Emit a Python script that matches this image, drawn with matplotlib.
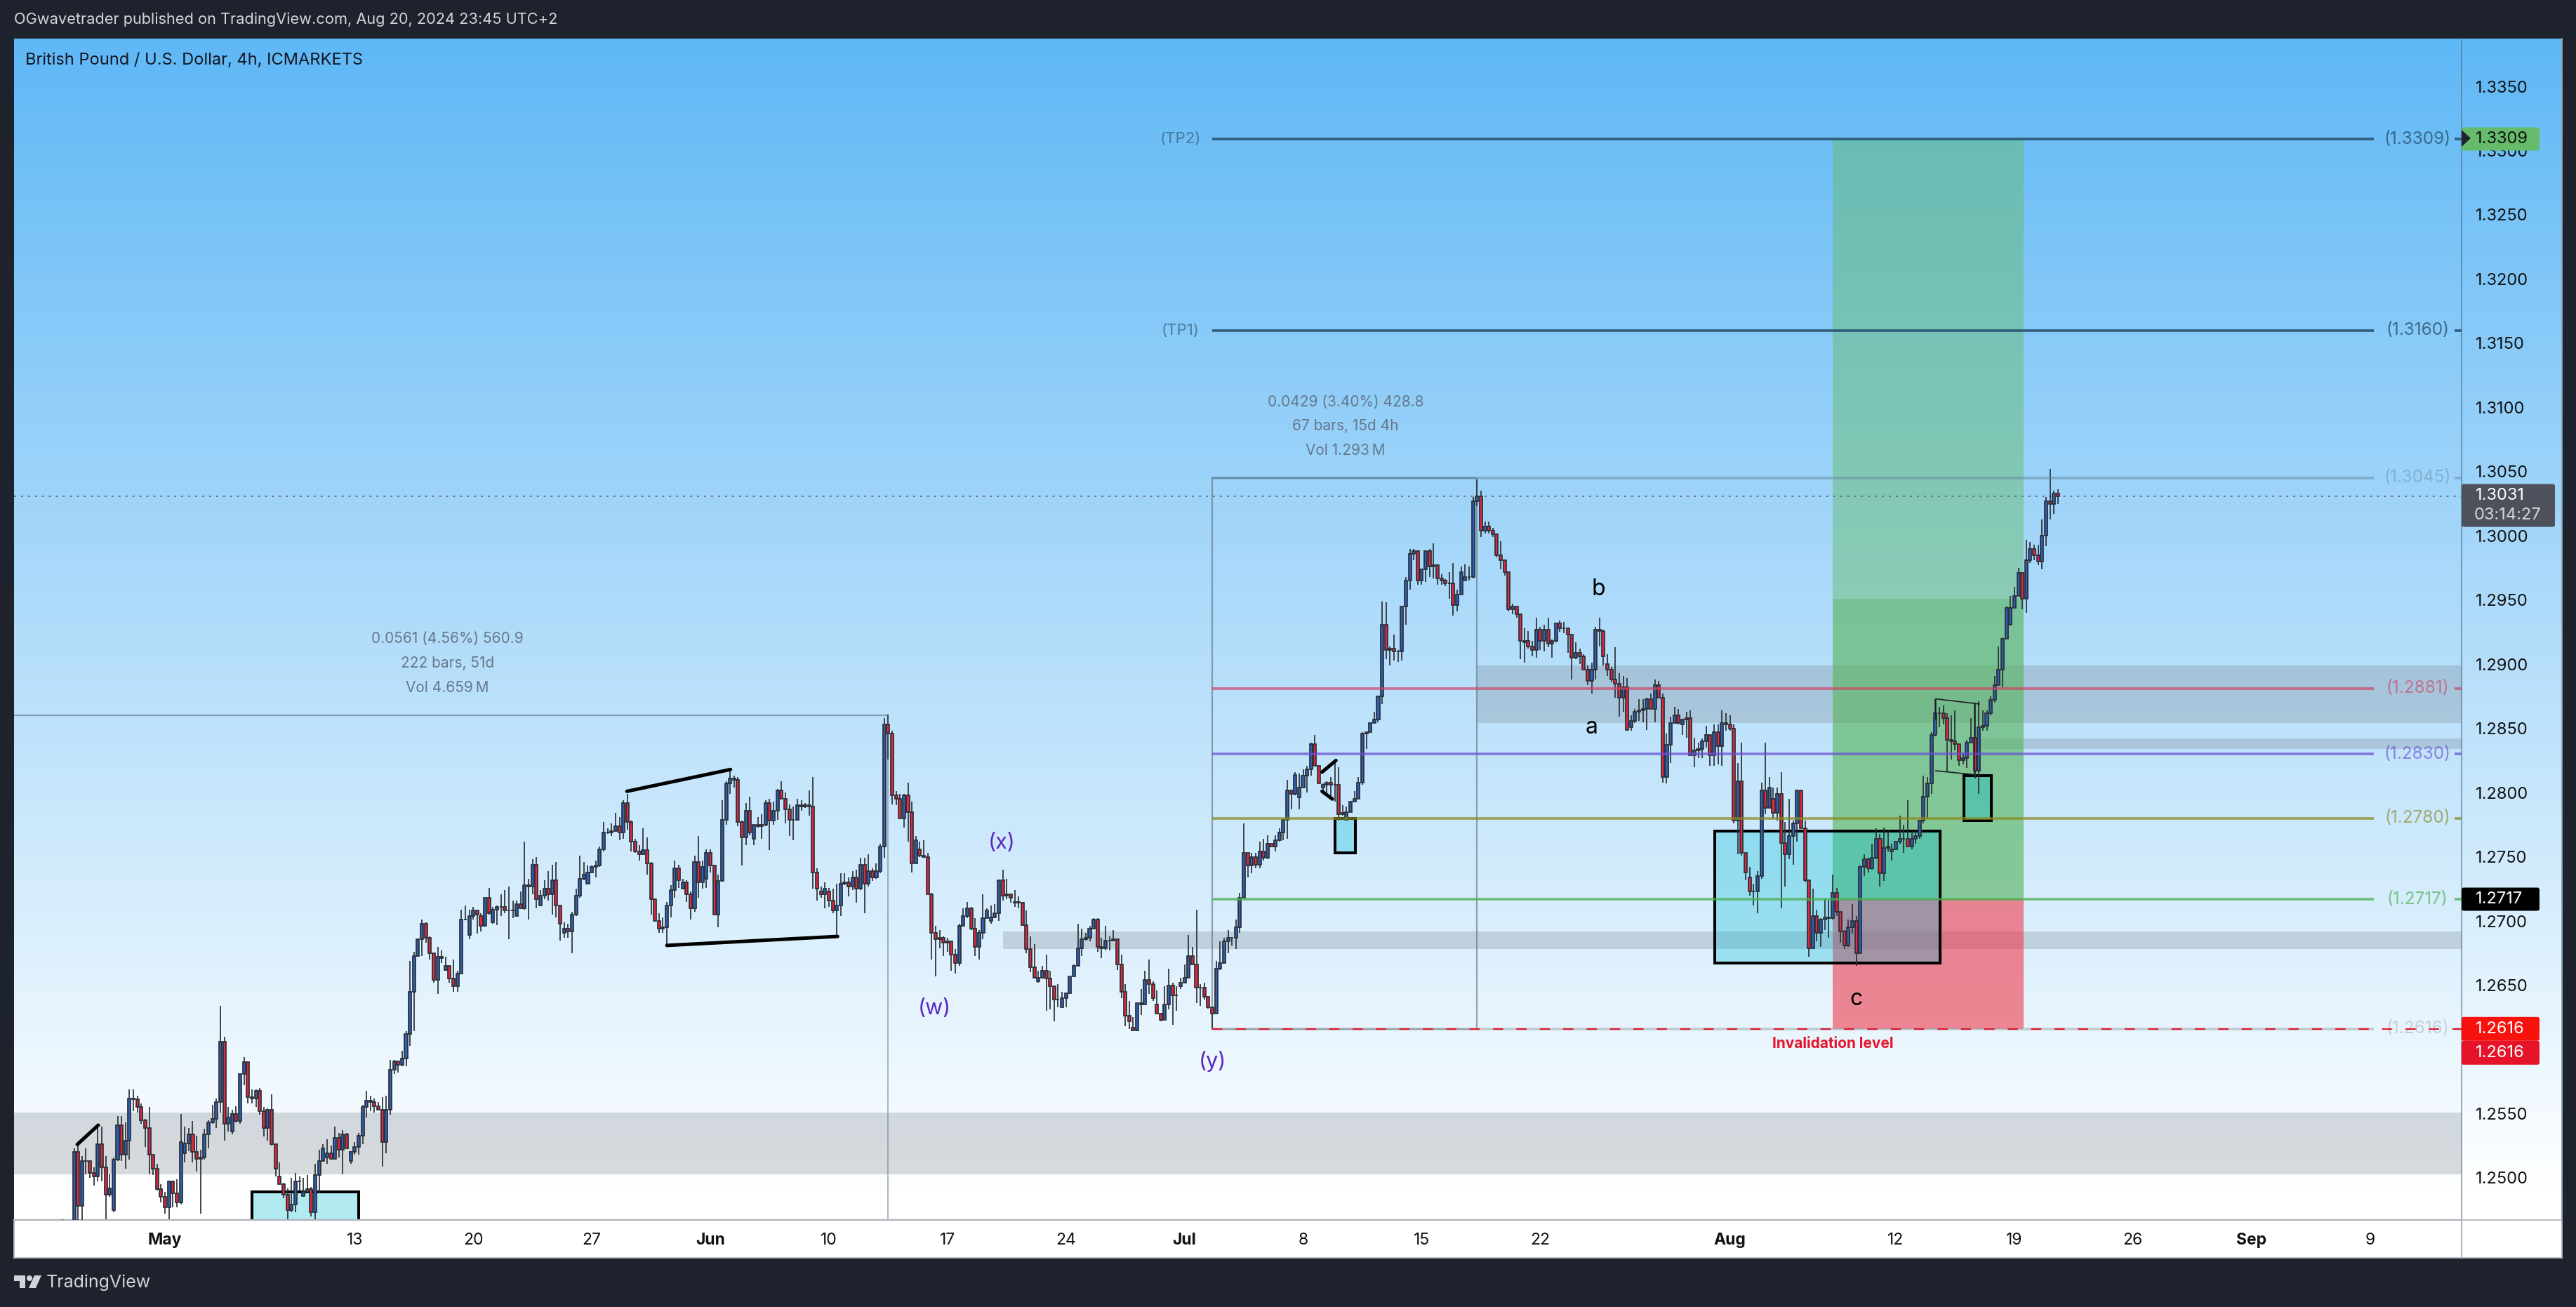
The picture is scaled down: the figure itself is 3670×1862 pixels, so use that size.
import numpy as np
import matplotlib
matplotlib.use("Agg")
import matplotlib.pyplot as plt
from matplotlib.patches import Rectangle, Polygon, Circle, FancyBboxPatch

plt.rcParams["font.family"] = ["Inter", "DejaVu Sans"]

# 4h GBPUSD bars, in 1/10000 of a dollar
closes = [
    12460,12460,12455,12520,12478,12513,12513,12504,12501,12526,
    12508,12487,12492,12514,12541,12518,12529,12562,12561,12555,
    12545,12539,12518,12507,12491,12485,12477,12497,12488,12481,
    12528,12527,12534,12520,12515,12516,12534,12543,12546,12559,
    12606,12542,12547,12550,12544,12581,12590,12563,12562,12568,
    12552,12539,12553,12526,12507,12495,12487,12475,12479,12497,
    12497,12489,12491,12473,12502,12513,12523,12519,12515,12531,
    12522,12534,12523,12520,12524,12533,12555,12560,12559,12556,
    12553,12528,12553,12584,12591,12588,12593,12612,12645,12673,
    12686,12698,12687,12675,12654,12672,12671,12665,12655,12649,
    12659,12701,12701,12704,12708,12705,12696,12718,12706,12709,
    12711,12711,12708,12708,12708,12713,12710,12728,12727,12744,
    12717,12720,12725,12721,12732,12712,12698,12694,12692,12705,
    12720,12733,12736,12738,12742,12743,12756,12769,12769,12770,
    12774,12769,12792,12777,12762,12754,12752,12755,12745,12717,
    12700,12694,12695,12712,12724,12741,12732,12730,12721,12710,
    12746,12730,12742,12753,12743,12705,12731,12779,12807,12811,
    12810,12777,12765,12786,12769,12775,12774,12775,12792,12778,
    12786,12802,12795,12787,12779,12779,12790,12789,12790,12789,
    12738,12725,12721,12725,12716,12708,12712,12729,12730,12727,
    12734,12725,12744,12729,12739,12734,12739,12758,12853,12846,
    12798,12795,12780,12798,12785,12745,12763,12751,12750,12721,
    12691,12686,12687,12683,12684,12674,12667,12696,12704,12710,
    12694,12680,12691,12702,12708,12703,12706,12732,12720,12721,
    12718,12715,12714,12697,12678,12664,12656,12656,12661,12655,
    12649,12639,12639,12640,12644,12657,12665,12679,12686,12687,
    12694,12701,12680,12679,12685,12685,12686,12666,12645,12626,
    12622,12615,12636,12635,12654,12651,12640,12628,12623,12635,
    12650,12642,12642,12652,12656,12673,12666,12648,12648,12641,
    12633,12628,12663,12667,12684,12687,12687,12695,12718,12753,
    12743,12750,12744,12754,12749,12760,12758,12763,12769,12779,
    12802,12799,12814,12804,12813,12818,12838,12821,12807,12806,
    12808,12806,12806,12783,12784,12785,12793,12795,12808,12846,
    12847,12854,12857,12875,12931,12911,12912,12910,12910,12945,
    12965,12986,12988,12965,12974,12988,12976,12977,12967,12965,
    12963,12963,12946,12954,12972,12968,12968,13027,13031,13004,
    13007,13004,13001,12985,12981,12972,12943,12945,12939,12918,
    12918,12914,12911,12927,12918,12927,12916,12918,12932,12928,
    12928,12923,12905,12909,12906,12896,12887,12896,12927,12926,
    12906,12896,12888,12885,12874,12882,12849,12856,12863,12864,
    12865,12873,12865,12884,12874,12812,12837,12854,12860,12854,
    12857,12858,12829,12833,12834,12840,12845,12829,12847,12836,
    12854,12853,12850,12778,12809,12753,12738,12723,12723,12735,
    12802,12788,12804,12784,12799,12761,12752,12766,12776,12802,
    12772,12732,12679,12704,12691,12701,12703,12702,12722,12707,
    12692,12681,12695,12700,12675,12742,12748,12741,12749,12764,
    12737,12757,12758,12756,12762,12764,12764,12758,12764,12766,
    12778,12797,12807,12845,12862,12862,12858,12841,12840,12838,
    12825,12827,12839,12843,12817,12851,12852,12862,12872,12884,
    12896,12920,12944,12944,12953,12971,12951,12981,12990,12985,
    12980,13000,13027,13025,13033,13031,
]
highs = [
    12468,12462,12460,12523,12525,12517,12523,12513,12508,12541,
    12540,12517,12503,12516,12548,12548,12543,12569,12569,12564,
    12558,12546,12555,12518,12511,12495,12489,12498,12498,12499,
    12550,12540,12539,12544,12533,12522,12538,12545,12557,12562,
    12634,12610,12555,12553,12556,12581,12594,12591,12569,12569,
    12570,12555,12554,12565,12526,12512,12496,12492,12500,12504,
    12501,12500,12502,12493,12511,12522,12526,12530,12525,12540,
    12535,12537,12535,12521,12528,12535,12557,12568,12564,12562,
    12559,12563,12564,12592,12592,12591,12599,12614,12669,12676,
    12686,12701,12699,12688,12675,12680,12677,12672,12665,12670,
    12661,12709,12712,12709,12711,12709,12706,12718,12726,12711,
    12712,12721,12724,12727,12716,12716,12723,12762,12733,12748,
    12750,12724,12732,12739,12744,12746,12712,12699,12698,12707,
    12725,12751,12746,12743,12743,12747,12758,12777,12772,12776,
    12784,12781,12794,12799,12778,12764,12759,12772,12765,12746,
    12717,12706,12703,12715,12728,12747,12744,12733,12732,12723,
    12751,12766,12747,12756,12756,12743,12736,12794,12809,12817,
    12813,12812,12778,12792,12797,12775,12781,12783,12794,12795,
    12793,12803,12809,12800,12791,12789,12795,12794,12792,12802,
    12812,12741,12727,12730,12726,12725,12729,12737,12737,12734,
    12739,12740,12749,12749,12752,12741,12745,12760,12858,12861,
    12848,12801,12799,12799,12808,12793,12766,12762,12763,12753,
    12722,12696,12693,12688,12687,12684,12678,12698,12710,12715,
    12711,12702,12693,12721,12710,12712,12713,12732,12740,12733,
    12721,12724,12719,12715,12708,12688,12682,12661,12665,12674,
    12661,12650,12651,12645,12644,12657,12666,12698,12694,12691,
    12696,12702,12702,12687,12696,12688,12693,12686,12674,12651,
    12638,12625,12636,12647,12661,12670,12653,12646,12628,12649,
    12663,12652,12649,12656,12666,12689,12680,12709,12651,12652,
    12641,12633,12669,12684,12687,12693,12687,12701,12722,12776,
    12753,12753,12753,12762,12764,12767,12760,12767,12772,12780,
    12810,12802,12816,12815,12818,12821,12839,12845,12821,12807,
    12809,12812,12825,12820,12790,12789,12793,12801,12812,12847,
    12847,12855,12863,12875,12949,12948,12914,12923,12911,12945,
    12968,12990,12990,12980,12974,12988,12990,12994,12977,12970,
    12966,12972,12979,12958,12976,12978,12976,13030,13044,13035,
    13011,13011,13006,13001,12996,12980,12972,12947,12945,12939,
    12928,12926,12918,12936,12929,12931,12936,12919,12932,12934,
    12933,12928,12923,12917,12912,12908,12899,12901,12929,12936,
    12927,12908,12898,12913,12893,12891,12889,12860,12865,12873,
    12873,12874,12877,12888,12887,12877,12846,12859,12867,12865,
    12857,12863,12864,12843,12839,12842,12852,12845,12853,12853,
    12864,12862,12860,12853,12823,12839,12753,12742,12729,12739,
    12808,12839,12812,12804,12804,12816,12777,12795,12778,12802,
    12802,12778,12732,12725,12709,12702,12717,12716,12736,12726,
    12707,12693,12701,12713,12704,12743,12752,12749,12760,12772,
    12768,12773,12770,12760,12762,12782,12775,12794,12770,12770,
    12779,12813,12812,12847,12873,12867,12868,12862,12860,12864,
    12838,12831,12841,12858,12870,12871,12864,12864,12875,12891,
    12914,12921,12945,12953,12960,12975,12971,12997,12995,12993,
    12993,13013,13030,13052,13035,13036,
]
lows = [
    12450,12450,12450,12450,12460,12460,12503,12500,12494,12497,
    12497,12468,12485,12473,12513,12513,12507,12514,12552,12551,
    12542,12524,12503,12502,12490,12481,12472,12468,12477,12477,
    12479,12512,12521,12512,12505,12472,12514,12523,12542,12539,
    12551,12529,12536,12534,12543,12542,12572,12558,12558,12555,
    12549,12532,12529,12525,12501,12495,12484,12468,12473,12473,
    12490,12486,12488,12470,12468,12488,12514,12511,12514,12514,
    12516,12503,12523,12511,12518,12518,12526,12547,12552,12551,
    12553,12509,12519,12549,12581,12582,12587,12587,12603,12614,
    12672,12673,12683,12670,12652,12643,12667,12661,12652,12645,
    12645,12660,12701,12686,12701,12690,12692,12696,12705,12698,
    12697,12704,12706,12686,12702,12704,12710,12709,12701,12721,
    12710,12712,12717,12716,12705,12703,12685,12687,12687,12675,
    12704,12718,12732,12729,12738,12734,12742,12754,12768,12766,
    12771,12763,12764,12771,12754,12753,12747,12752,12736,12705,
    12700,12691,12691,12682,12703,12718,12726,12725,12715,12701,
    12707,12718,12725,12726,12738,12705,12695,12731,12775,12799,
    12804,12774,12743,12759,12767,12759,12773,12764,12774,12755,
    12775,12779,12795,12776,12766,12763,12778,12786,12788,12782,
    12725,12716,12718,12710,12711,12706,12689,12704,12728,12719,
    12724,12714,12724,12706,12727,12731,12733,12737,12749,12826,
    12791,12790,12780,12773,12762,12738,12745,12750,12749,12721,
    12670,12657,12679,12673,12676,12661,12659,12665,12696,12702,
    12693,12673,12670,12686,12702,12698,12703,12700,12716,12717,
    12714,12711,12710,12697,12675,12660,12655,12652,12655,12630,
    12631,12622,12633,12633,12633,12645,12658,12665,12673,12685,
    12684,12694,12676,12671,12677,12677,12684,12662,12640,12618,
    12616,12614,12614,12627,12635,12643,12638,12628,12622,12623,
    12631,12619,12630,12647,12656,12656,12666,12636,12634,12639,
    12632,12616,12628,12662,12667,12675,12681,12678,12691,12718,
    12734,12737,12741,12741,12747,12748,12758,12754,12762,12763,
    12764,12787,12798,12787,12804,12800,12813,12821,12807,12801,
    12800,12797,12793,12778,12782,12779,12785,12793,12796,12806,
    12834,12847,12855,12855,12869,12904,12899,12903,12902,12903,
    12931,12958,12981,12962,12962,12964,12968,12967,12962,12962,
    12961,12951,12938,12941,12954,12965,12965,12967,13023,12999,
    13002,13002,12999,12983,12974,12969,12941,12939,12936,12904,
    12901,12912,12906,12905,12911,12910,12913,12905,12917,12925,
    12924,12909,12888,12904,12900,12895,12884,12877,12888,12914,
    12899,12891,12886,12874,12859,12863,12849,12848,12854,12856,
    12855,12849,12865,12855,12874,12808,12807,12823,12854,12853,
    12845,12843,12829,12820,12827,12827,12835,12821,12821,12822,
    12821,12848,12848,12776,12752,12751,12732,12720,12712,12706,
    12733,12783,12788,12780,12778,12710,12727,12748,12744,12762,
    12772,12730,12672,12678,12684,12680,12693,12687,12701,12704,
    12683,12678,12680,12690,12665,12675,12735,12738,12740,12748,
    12727,12731,12754,12747,12756,12760,12753,12758,12756,12760,
    12764,12776,12780,12799,12844,12851,12853,12816,12826,12833,
    12821,12822,12819,12839,12811,12799,12848,12848,12860,12870,
    12885,12882,12920,12931,12944,12953,12943,12940,12979,12981,
    12977,12974,12992,13013,13017,13025,
]
# bars that do not open on the previous close
open_gaps = {13:12475, 31:12519, 43:12536, 55:12501, 61:12486, 67:12516, 73:12513,
             97:12662, 103:12689, 106:12704, 109:12699, 115:12704, 121:12712, 127:12691,
             133:12729, 157:12725, 163:12733, 175:12764, 192:12723, 194:12723, 217:12756,
             235:12700, 241:12714, 247:12653, 253:12633, 254:12640, 271:12617, 277:12635,
             283:12649, 313:12796, 319:12804, 325:12779, 355:12965, 367:12943, 370:12917,
             383:12905, 385:12906, 391:12900, 397:12851, 410:12853, 427:12734, 433:12795,
             463:12754, 493:12931}

price_ticks = [1.25 + 0.005 * k for k in range(18)]
time_pos = [26, 74, 104, 134, 164, 194, 224, 254, 284, 314, 344, 374, 422, 464, 494, 524, 554, 584]
time_labels = ["May", "13", "20", "27", "Jun", "10", "17", "24", "Jul", "8", "15", "22", "Aug", "12", "19", "26", "Sep", "9"]
months = ["May", "Jun", "Jul", "Aug", "Sep"]

# (price, label, colour, alpha)
levels = [
    (1.3309, "(1.3309)", "#2c5673", 0.9),
    (1.3160, "(1.3160)", "#2c5673", 0.9),
    (1.3045, "(1.3045)", "#5f7f9a", 0.45),
    (1.2881, "(1.2881)", "#d0405f", 0.68),
    (1.2830, "(1.2830)", "#6a4fd0", 0.72),
    (1.2780, "(1.2780)", "#8a8a20", 0.72),
    (1.2717, "(1.2717)", "#4caf50", 0.75),
    (1.2616, "(1.2616)", "#9aa0a8", 0.5),
]

W, H = 3670, 1862
L, R, T, B = 20, 3507, 55, 1738
ymax = 1.335 + (123 - T) / 18294
ymin = 1.335 - (B - 123) / 18294
xmin = (L - 88.7) / 5.63
xmax = (R - 88.7) / 5.63

fig = plt.figure(figsize=(W / 100, H / 100), dpi=100, facecolor="#1e222d")

# background gradient, runs under the price scale as well
bg = fig.add_axes([L / W, 1 - B / H, (3650 - L) / W, (B - T) / H], zorder=0)
ramp = np.linspace(0, 1, 512)[:, None]
top = np.array([95, 184, 246]) / 255
grad = np.clip(ramp / (1645 / 1683), 0, 1)
bg.imshow((top + (1 - top) * grad)[:, None, :].squeeze()[:, None, :], aspect="auto")
bg.axis("off")

ax = fig.add_axes([L / W, 1 - B / H, (R - L) / W, (B - T) / H], zorder=2)
ax.patch.set_alpha(0)
ax.set_xlim(xmin, xmax)
ax.set_ylim(ymin, ymax)

# grey zones (left bar, low, high)
for x0, lo, hi in [(xmin, 1.2503, 1.2551), (238, 1.2678, 1.2692), (358, 1.2854, 1.2899), (485.5, 1.2834, 1.2842)]:
    ax.add_patch(Rectangle((x0, lo), xmax - x0, hi - lo, fc="#78808a", alpha=0.28, lw=0, zorder=1))

# long position
ax.add_patch(Rectangle((448, 1.2717), 48.3, 1.3309 - 1.2717, fc="#66bb6a", alpha=0.47, lw=0, zorder=1.2))
ax.add_patch(Rectangle((448, 1.2717), 48.3, 1.2951 - 1.2717, fc="#4caf50", alpha=0.3, lw=0, zorder=1.3))
ax.add_patch(Rectangle((448, 1.2616), 48.3, 1.2717 - 1.2616, fc="#f23645", alpha=0.58, lw=0, zorder=1.2))

# cyan demand boxes
for x0, x1, lo, hi in [(48, 75, 1.2400, 1.2489), (322, 327.2, 1.2753, 1.2780),
                       (418.2, 475.2, 1.2667, 1.2770), (481.2, 488.1, 1.2778, 1.2813)]:
    ax.add_patch(Rectangle((x0, lo), x1 - x0, hi - lo, fc=(0, 188 / 255, 212 / 255, 0.3),
                           ec="black", lw=2.9, zorder=1.5))

# candles
c = np.array(closes) / 10000
hi = np.array(highs) / 10000
lo = np.array(lows) / 10000
o = np.r_[c[0], c[:-1]]
for k, v in open_gaps.items():
    o[k] = v / 10000
hi = np.maximum(hi, np.maximum(o, c))
lo = np.minimum(lo, np.minimum(o, c))
x = np.arange(len(c))
ax.vlines(x, lo, hi, color="#2b2f36", lw=1.25, zorder=3)
up = c >= o
ax.bar(x[up], (c - o)[up], bottom=o[up], width=0.72, color="#2c60b4", edgecolor="#2b2f36", lw=1.25, zorder=3.1)
ax.bar(x[~up], (o - c)[~up], bottom=c[~up], width=0.72, color="#e4263f", edgecolor="#2b2f36", lw=1.25, zorder=3.1)

# measure tools
ax.plot([xmin, 209], [1.2860, 1.2860], color="#6f8596", alpha=0.7, lw=1.6, zorder=2)
ax.plot([209, 209], [ymin, 1.2860], color="#6f8596", alpha=0.6, lw=1.4, zorder=2)
ax.plot([291, 358, 358, 291, 291], [1.3045, 1.3045, 1.2616, 1.2616, 1.3045], color="#5d6f7d", alpha=0.6, lw=1.6, zorder=2)

# levels
for price, label, col, alpha in levels:
    ax.plot([291, 585], [price, price], color=col, alpha=alpha, lw=2.7, solid_capstyle="butt", zorder=4)
    ax.plot([605.4, xmax], [price, price], color=col, alpha=alpha, lw=2.7, solid_capstyle="butt", zorder=4)
    ax.text(596, price, label, color=col, alpha=alpha * 0.9, fontsize=17.5, ha="center", va="center", zorder=4)
ax.plot([291, xmax], [1.2616, 1.2616], color="#e5142b", lw=1.5, dashes=(7, 9), zorder=4.5)
ax.plot([xmin, xmax], [1.3031, 1.3031], color="#5f6b76", lw=1.3, dashes=(1.5, 4), zorder=2.5)

# thick trend lines
for xs, ys in [([3.8, 9.1], [1.2526, 1.2541]), ([142.9, 169.1], [1.2801, 1.2818]),
               ([153, 196.2], [1.2681, 1.2688]), ([318.8, 322.3], [1.2816, 1.2825]),
               ([318.8, 321.4], [1.2801, 1.2795])]:
    ax.plot(xs, ys, color="black", lw=3.6, solid_capstyle="round", zorder=5)
# thin flag
ax.plot([474.1, 474.1, 485.1], [1.2857, 1.2873, 1.2869], color="#1c2024", lw=1.2, zorder=5)
ax.plot([474.1, 483.9, 483.9], [1.2817, 1.2814, 1.2869], color="#1c2024", lw=1.2, zorder=5)

# wave and note labels
for tx, ty, s in [(220.8, 1.26317, "(w)"), (237.8, 1.27609, "(x)"), (291, 1.25907, "(y)")]:
    ax.text(tx, ty, s, color="#5a28c4", fontsize=22, ha="center", va="center", zorder=6)
for tx, ty, s in [(387, 1.28509, "a"), (388.7, 1.29582, "b"), (454, 1.2639, "c")]:
    ax.text(tx, ty, s, color="black", fontsize=23, ha="center", va="center", zorder=6)
ax.text(448, 1.26045, "Invalidation level", color="#e5142b", fontsize=15, fontweight="bold",
        ha="center", va="center", zorder=6)
ax.text(283, 1.3309, "(TP2)", color="#3f6a88", fontsize=16, alpha=0.8, ha="center", va="center")
ax.text(283, 1.3160, "(TP1)", color="#3f6a88", fontsize=16, alpha=0.8, ha="center", va="center")
for ty, s in [(1.29196, "0.0561 (4.56%) 560.9"), (1.29006, "222 bars, 51d"), (1.28816, "Vol 4.659\u2009M")]:
    ax.text(97.5, ty, s, color="#66788a", fontsize=15, ha="center", va="center")
for ty, s in [(1.31042, "0.0429 (3.40%) 428.8"), (1.30852, "67 bars, 15d 4h"), (1.30662, "Vol 1.293\u2009M")]:
    ax.text(324.7, ty, s, color="#66788a", fontsize=15, ha="center", va="center")

# axes
ax.yaxis.tick_right()
ax.set_yticks(price_ticks)
ax.set_yticklabels([f"{p:.4f}" for p in price_ticks], fontsize=17, color="#111111")
ax.tick_params(axis="y", length=0, pad=14)
ax.set_xticks(time_pos)
ax.set_xticklabels(time_labels, fontsize=16.5, color="#111111")
ax.tick_params(axis="x", length=0, pad=13)
for t in ax.get_xticklabels():
    if t.get_text() in months:
        t.set_fontweight("bold")
for side in ["top", "left"]:
    ax.spines[side].set_visible(False)
ax.spines["right"].set_color("#4a6e8a")
ax.spines["right"].set_alpha(0.55)
ax.spines["right"].set_linewidth(1.5)
ax.spines["bottom"].set_color("#b2b5be")
ax.spines["bottom"].set_linewidth(1.7)

# overlay in pixels for frame, price tags and logo
ov = fig.add_axes([0, 0, 1, 1], zorder=3)
ov.set_xlim(0, W)
ov.set_ylim(H, 0)
ov.axis("off")


def py(p):
    return T + (ymax - p) / (ymax - ymin) * (B - T)


# white time scale sits under the main axes
bgw = fig.add_axes([L / W, 1 - 1792 / H, (3650 - L) / W, 54 / H], zorder=1, facecolor="white")
bgw.set_xticks([])
bgw.set_yticks([])
for s in bgw.spines.values():
    s.set_color("#b2b5be")
    s.set_linewidth(1.3)
ov.plot([3507, 3507], [1738, 1792], color="#b2b5be", lw=1.5)
ov.plot([3650, 3650], [T, 1738], color="#8fa8ba", lw=1.3)


def tag(price, h, right, face, text, tcol):
    y = py(price)
    ov.add_patch(FancyBboxPatch((3507, y - h / 2), right - 3507, h, boxstyle="round,pad=0,rounding_size=3",
                                fc=face, ec="none"))
    ov.text(3527, y, text, color=tcol, fontsize=17, va="center", ha="left")


tag(1.2616 - 0.00186, 34, 3618, "#e5142b", "1.2616", "white")
tag(1.2616, 34, 3618, "#f7120e", "1.2616", "white")
tag(1.2717, 33, 3618, "black", "1.2717", "white")
tag(1.3309, 33, 3618, "#66bb6a", "1.3309", "#111111")
ov.add_patch(Polygon([[3507, 185], [3507, 209], [3520, 197]], fc="#1e222d", ec="none"))
y0 = py(1.3031)
ov.add_patch(FancyBboxPatch((3507, y0 - 17), 133, 61, boxstyle="round,pad=0,rounding_size=3", fc="#4e505c", ec="none"))
ov.text(3527, y0 - 1, "1.3031", color="white", fontsize=17, va="center", ha="left")
ov.text(3525, y0 + 27, "03:14:27", color="#d6d6da", fontsize=17, va="center", ha="left")

# header and footer
ov.text(20, 28, "OGwavetrader published on TradingView.com, Aug 20, 2024 23:45 UTC+2", color="#d1d4dc",
        fontsize=15.7, va="center", ha="left")
ov.text(36, 86, "British Pound / U.S. Dollar, 4h, ICMARKETS", color="#131722", fontsize=17, va="center", ha="left")
ov.add_patch(Polygon([[20, 1817], [36, 1817], [36, 1835], [28, 1835], [28, 1825], [20, 1825]], fc="#d1d4dc", ec="none"))
ov.add_patch(Circle((42, 1821), 4, fc="#d1d4dc", ec="none"))
ov.add_patch(Polygon([[49, 1817], [59, 1817], [51, 1835], [41, 1835]], fc="#d1d4dc", ec="none"))
ov.text(66, 1827, "TradingView", color="#d1d4dc", fontsize=18, va="center", ha="left")

fig.savefig("out.png", dpi=100, facecolor=fig.get_facecolor())
